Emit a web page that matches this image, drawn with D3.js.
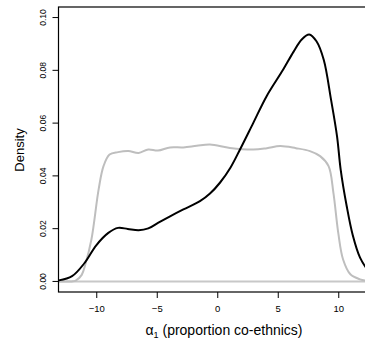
<!DOCTYPE html>
<html lang="en">
<head>
<meta charset="UTF-8">
<title>Density of alpha1</title>
<style>
  body { margin: 0; background: #fff; }
  svg { display: block; font-family: "Liberation Sans", Arial, sans-serif; }
  .curve { fill: none; stroke-width: 2px; }
</style>
</head>
<body>
<div id="chart"></div>
<script src="https://d3js.org/d3.v7.min.js"></script>
<script>
// posterior density (black)
const postX = [-13.1, -12, -11, -10, -9, -8.2, -7.4, -6.5, -5.7, -4.9, -3.9, -2.8, -1.43, -0.6, 0.22, 1.1, 1.88,
               2.98, 4.08, 5.45, 6.3, 6.98, 7.6, 8.2, 8.8, 9.4, 9.9, 10.2, 10.7, 11.2, 11.8, 12.4];
const postY = [0.0004, 0.002, 0.0068, 0.0137, 0.0184, 0.0203, 0.0199, 0.0194, 0.0201, 0.0222, 0.0247, 0.0273,
               0.0304, 0.0333, 0.0374, 0.0432, 0.050, 0.0601, 0.0702, 0.0803, 0.087, 0.0917,
               0.0936, 0.091, 0.084, 0.069, 0.055, 0.0424, 0.0285, 0.0175, 0.009, 0.0045];

// prior density (grey)
const priorX = [-13.1, -12, -11.7, -11.2, -10.9, -10.4, -9.8, -9.4, -8.9, -8.2, -7.35, -6.5, -5.7, -4.9, -3.9,
                -2.8, -1.7, -0.6, 1.05, 2.98, 4.1, 5.2, 6.5, 7.66, 8.5, 9.2, 9.6, 10, 10.4, 11, 11.8, 12.4];
const priorY = [0, 0, 0.0003, 0.0025, 0.0065, 0.0159, 0.035, 0.0437, 0.0481, 0.049, 0.0494, 0.0487, 0.050,
                0.0496, 0.0508, 0.0508, 0.0514, 0.0519, 0.0506, 0.050, 0.0505, 0.0513, 0.0505, 0.0494, 0.0475,
                0.0437, 0.0336, 0.0184, 0.0083, 0.0027, 0.0008, 0.0002];

const xTicks = [-10, -5, 0, 5, 10];
const yTicks = [0, 0.02, 0.04, 0.06, 0.08, 0.10];

const W = 365, H = 342;
const m = { left: 58.5, top: 7, right: 380, bottom: 292 };

const x = d3.scaleLinear().domain([-13.12, 13.45]).range([m.left, m.right]);
const y = d3.scaleLinear().domain([-0.004, 0.104]).range([m.bottom, m.top]);

const svg = d3.select("#chart").append("svg")
    .attr("width", W).attr("height", H);

svg.append("defs").append("clipPath").attr("id", "plotclip")
  .append("rect")
    .attr("x", m.left).attr("y", m.top)
    .attr("width", m.right - m.left).attr("height", m.bottom - m.top);

const plot = svg.append("g").attr("clip-path", "url(#plotclip)");

const line = d3.line()
    .x(d => x(d[0]))
    .y(d => y(d[1]))
    .curve(d3.curveCatmullRom.alpha(0.5));

// grey zero line across the whole panel
plot.append("path")
    .attr("class", "curve")
    .attr("stroke", "#c8c8c8")
    .attr("stroke-width", 1.5)
    .attr("d", line([[x.domain()[0], 0], [x.domain()[1], 0]]));

plot.append("path")
    .attr("class", "curve")
    .attr("stroke", "#bebebe")
    .attr("d", line(d3.zip(priorX, priorY)));

plot.append("path")
    .attr("class", "curve")
    .attr("stroke", "#000")
    .attr("d", line(d3.zip(postX, postY)));

// box
svg.append("rect")
    .attr("x", m.left).attr("y", m.top)
    .attr("width", m.right - m.left).attr("height", m.bottom - m.top)
    .attr("fill", "none").attr("stroke", "#000").attr("stroke-width", 1.2);

// x axis
const xAxis = svg.append("g")
    .attr("transform", `translate(0,${m.bottom})`)
    .call(d3.axisBottom(x).tickValues(xTicks).tickSize(6).tickPadding(7).tickFormat(d3.format("d")));
xAxis.select(".domain").remove();
xAxis.selectAll("text").attr("font-size", 9.5).attr("font-family", "Liberation Sans, Arial, sans-serif");

// y axis with rotated labels
const yAxis = svg.append("g")
    .attr("transform", `translate(${m.left},0)`)
    .call(d3.axisLeft(y).tickValues(yTicks).tickSize(6).tickFormat(d3.format(".2f")));
yAxis.select(".domain").remove();
yAxis.selectAll("text")
    .attr("font-size", 8.5)
    .attr("font-family", "Liberation Sans, Arial, sans-serif")
    .attr("x", null).attr("dy", null)
    .attr("text-anchor", "middle")
    .attr("transform", d => `translate(-13,${y(d)}) rotate(-90)`)
    .attr("y", 0);
yAxis.selectAll(".tick").attr("transform", null);
yAxis.selectAll(".tick line").attr("y1", d => y(d)).attr("y2", d => y(d));

svg.append("text")
    .attr("transform", `translate(24,150) rotate(-90)`)
    .attr("text-anchor", "middle")
    .attr("font-size", 13)
    .text("Density");

const xl = svg.append("text")
    .attr("x", 224).attr("y", 335)
    .attr("text-anchor", "middle")
    .attr("font-size", 14);
xl.append("tspan").text("\u03b1");
xl.append("tspan").attr("font-size", 9).attr("dy", 3).text("1");
xl.append("tspan").attr("dy", -3).text(" (proportion co-ethnics)");
</script>
</body>
</html>
